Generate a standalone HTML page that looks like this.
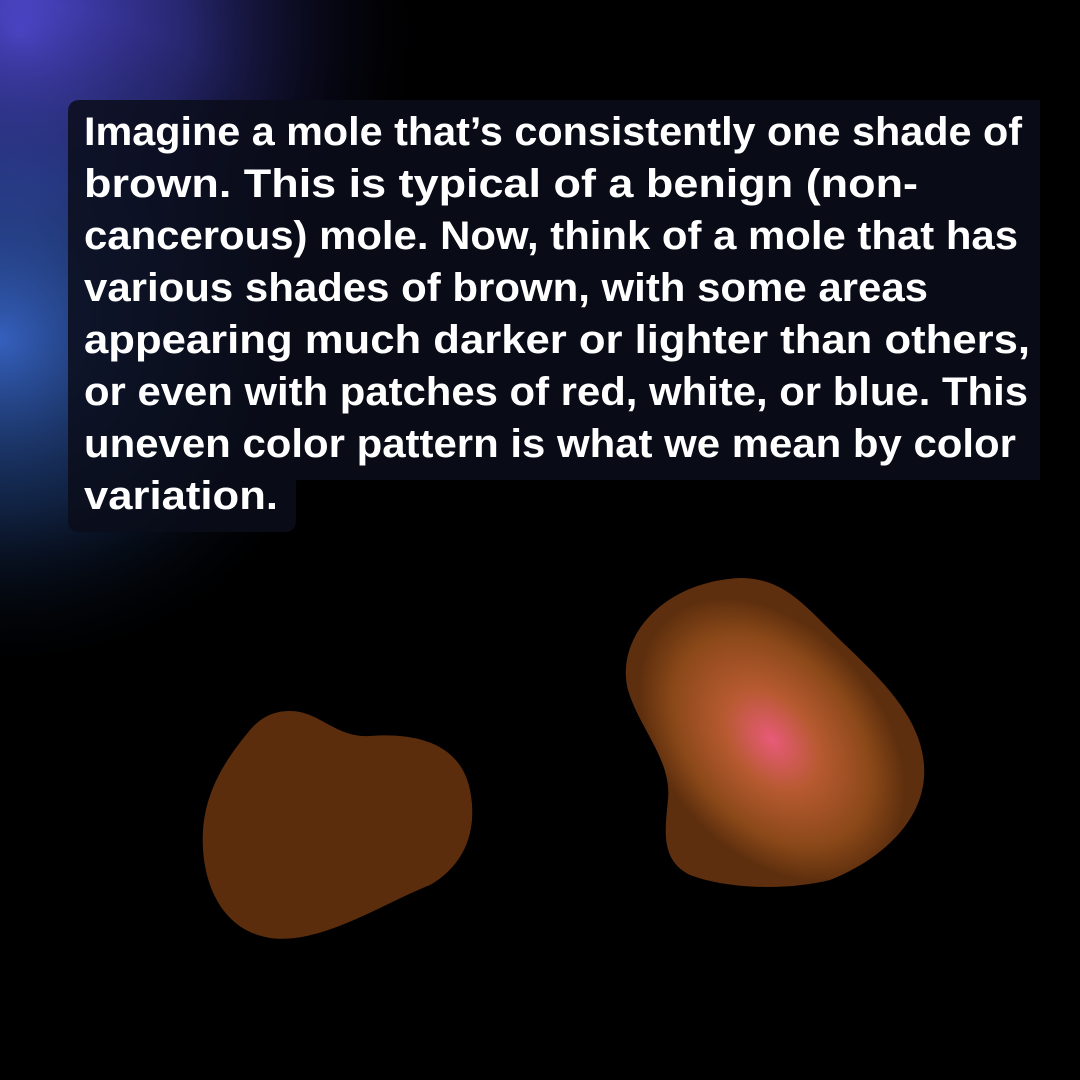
<!DOCTYPE html>
<html><head><meta charset="utf-8"><style>
html,body{margin:0;padding:0;background:#000;}
#root{position:relative;width:1080px;height:1080px;overflow:hidden;background:#000;}
svg{position:absolute;left:0;top:0;}
</style></head><body>
<div id="root">
<svg width="1080" height="1080" viewBox="0 0 1080 1080">
<defs>
<radialGradient id="bg1" cx="0" cy="0" r="1" gradientUnits="userSpaceOnUse" gradientTransform="translate(20 30) scale(420 420)">
<stop offset="0" stop-color="#5048d0"/><stop offset="0.4" stop-color="#3a3aa8" stop-opacity="0.65"/><stop offset="1" stop-color="#000" stop-opacity="0"/></radialGradient>
<radialGradient id="bg2" cx="0" cy="0" r="1" gradientUnits="userSpaceOnUse" gradientTransform="translate(0 340) scale(360 340)">
<stop offset="0" stop-color="#3a6ad0" stop-opacity="0.9"/><stop offset="0.5" stop-color="#244a90" stop-opacity="0.45"/><stop offset="1" stop-color="#000" stop-opacity="0"/></radialGradient>
<radialGradient id="glow" cx="0" cy="0" r="1" gradientUnits="userSpaceOnUse" gradientTransform="translate(772 740) rotate(50) scale(160 110)">
<stop offset="0" stop-color="#e85a78"/><stop offset="0.35" stop-color="#b85a32"/><stop offset="0.75" stop-color="#8a4818"/><stop offset="1" stop-color="#5e2f0e"/></radialGradient>
</defs>
<rect width="1080" height="1080" fill="#000"/>
<rect width="1080" height="1080" fill="url(#bg1)"/>
<rect width="1080" height="1080" fill="url(#bg2)"/>
<path d="M80 100 H1040 V480 H296 V520 Q296 532 284 532 H80 Q68 532 68 520 V112 Q68 100 80 100 Z" fill="#0b0d1a" fill-opacity="0.85"/>
<g font-family="Liberation Sans, sans-serif" font-weight="bold" font-size="40" fill="#fff">
<text x="84" y="145" textLength="938" lengthAdjust="spacingAndGlyphs">Imagine a mole that’s consistently one shade of</text>
<text x="84" y="197" textLength="834" lengthAdjust="spacingAndGlyphs">brown. This is typical of a benign (non-</text>
<text x="84" y="249" textLength="934" lengthAdjust="spacingAndGlyphs">cancerous) mole. Now, think of a mole that has</text>
<text x="84" y="301" textLength="844" lengthAdjust="spacingAndGlyphs">various shades of brown, with some areas</text>
<text x="84" y="353" textLength="946" lengthAdjust="spacingAndGlyphs">appearing much darker or lighter than others,</text>
<text x="84" y="405" textLength="944" lengthAdjust="spacingAndGlyphs">or even with patches of red, white, or blue. This</text>
<text x="84" y="457" textLength="932" lengthAdjust="spacingAndGlyphs">uneven color pattern is what we mean by color</text>
<text x="84" y="509" textLength="194" lengthAdjust="spacingAndGlyphs">variation.</text>
</g>
<path fill="#5c2d0c" d="M290 711 C320 711 335 738 370 736 C410 733 460 740 470 790 C478 830 465 865 430 885 C380 905 320 945 270 938 C220 930 200 880 203 830 C206 790 225 760 250 730 C262 716 275 711 290 711 Z"/>
<path fill="url(#glow)" d="M740 578 C780 578 800 600 830 630 C870 670 920 710 924 765 C928 820 880 860 830 880 C790 890 730 890 690 875 C660 860 665 830 668 800 C672 760 640 730 628 690 C615 640 660 582 740 578 Z"/>
</svg>
</div>
</body></html>
